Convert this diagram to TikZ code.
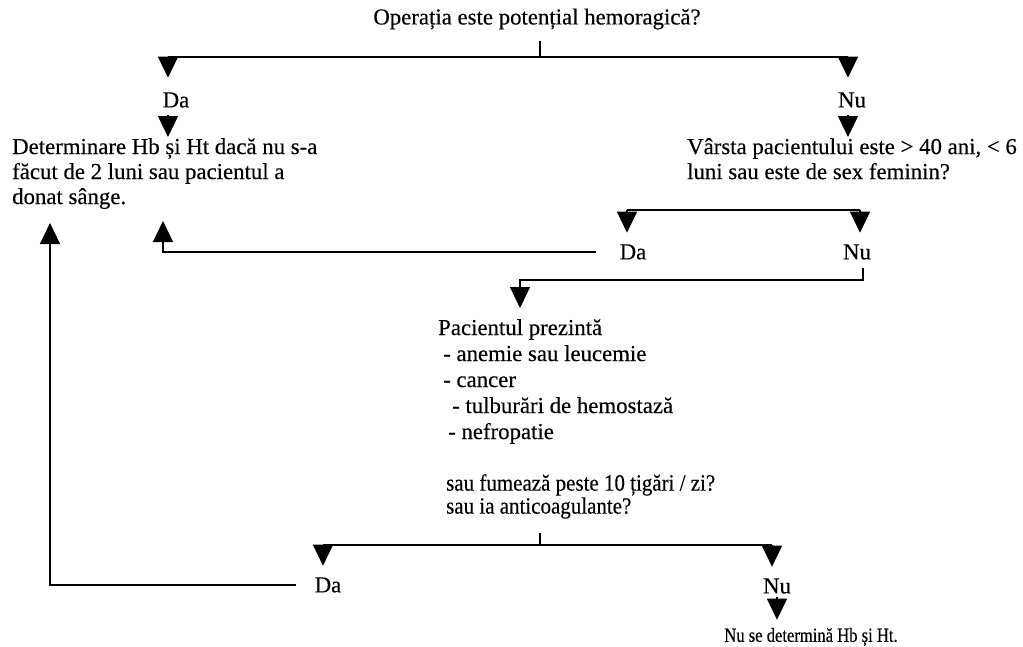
\documentclass[tikz,border=0pt]{standalone}
\usepackage{fontspec}
\setmainfont{Liberation Serif}[FakeBold=0.3]
\newfontfamily\condfont{Liberation Serif}[FakeStretch=0.9,FakeBold=0.3]
\newfontfamily\narrowfont{Liberation Serif}[FakeStretch=0.83,FakeBold=0.3]
\usetikzlibrary{arrows.meta}
\begin{document}
\begin{tikzpicture}[x=1pt,y=-1pt,
  txt/.style={inner sep=0pt, font=\fontsize{22.8}{25}\selectfont},
  blk/.style={txt, align=left, anchor=north west},
  ln/.style={line width=1.2pt},
  arr/.style={ln, -{Triangle[width=20pt,length=21pt]}}]
\useasboundingbox (0,0) rectangle (1023,646);

% level 1
\node[txt] (title) at (537,19) {Operația este potențial hemoragică?};
\coordinate (b1L) at (168,57);
\coordinate (b1M) at (540,57);
\coordinate (b1R) at (848,57);
\node[txt] (da1) at (176,100) {Da};
\node[txt] (nu1) at (852,100) {Nu};
\node[blk] (det) at (12,138) {Determinare Hb și Ht dacă nu s-a\\făcut de 2 luni sau pacientul a\\donat sânge.};
\node[blk] (age) at (687,138) {Vârsta pacientului este > 40 ani, < 6\\luni sau este de sex feminin?};

\draw[ln,shorten <=11pt] (title.south -| b1M) -- (b1M);
\draw[ln] (b1L) -- (b1R);
\draw[arr,shorten >=14.5pt] (b1L) -- (b1L |- da1.north);
\draw[arr,shorten >=14.5pt] (b1R) -- (b1R |- nu1.north);
\draw[arr,shorten <=7pt,shorten >=1pt] (b1L |- da1.south) -- (b1L |- det.north);
\draw[arr,shorten <=7pt,shorten >=1pt] (b1R |- nu1.south) -- (b1R |- age.north);

% level 2
\coordinate (b2L) at (627,210);
\coordinate (b2R) at (860,210);
\node[txt] (da2) at (633,252) {Da};
\node[txt] (nu2) at (857,252) {Nu};
\draw[ln] (b2L) -- (b2R);
\draw[arr,shorten >=11.5pt] (b2L) -- (b2L |- da2.north);
\draw[arr,shorten >=11.5pt] (b2R) -- (b2R |- nu2.north);
\coordinate (t2) at (163,221);
\draw[arr] ([xshift=-24pt]da2.west) -| (t2);
\coordinate (c3) at (863,280);
\coordinate (t3) at (520,308);
\draw[arr,shorten <=8pt] (c3 |- nu2.south) -- (c3) -| (t3);

% level 3
\node[blk, font=\fontsize{22.8}{26}\selectfont] (pac) at (438,319)
  {Pacientul prezintă\\\hspace*{5pt}- anemie sau leucemie\\\hspace*{5pt}- cancer\\\hspace*{14pt}- tulburări de hemostază\\\hspace*{10pt}- nefropatie};
\node[blk, font=\condfont\fontsize{23.3}{23}\selectfont] (q3) at (446,474)
  {sau fumează peste 10 țigări / zi?\\sau ia anticoagulante?};

\coordinate (b3L) at (323,545);
\coordinate (b3M) at (540,545);
\coordinate (b3R) at (772,545);
\draw[ln,shorten <=14pt] (q3.south -| b3M) -- (b3M);
\draw[ln] (b3L) -- (b3R);
\node[txt] (da3) at (328,585) {Da};
\node[txt] (nu3) at (777,586) {Nu};
\draw[arr,shorten >=11.5pt] (b3L) -- (b3L |- da3.north);
\draw[arr,shorten >=11.5pt] (b3R) -- (b3R |- nu3.north);
\coordinate (t4) at (50,223);
\draw[arr] ([xshift=-19pt]da3.west) -| (t4);
\node[txt, font=\narrowfont\fontsize{20}{22}\selectfont] (res) at (811,637) {Nu se determină Hb și Ht.};
\draw[arr,shorten <=3pt,shorten >=8pt] (nu3.south) -- (nu3.south |- res.north);
\end{tikzpicture}
\end{document}
